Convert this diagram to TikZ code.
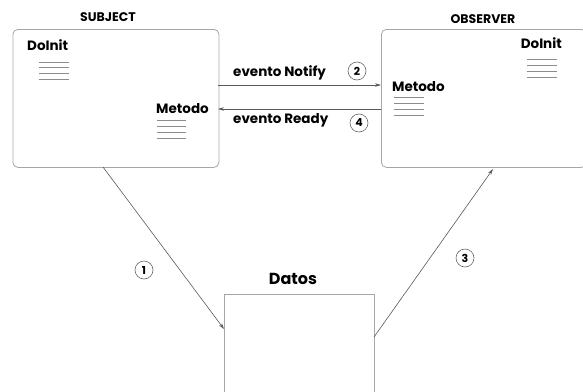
\documentclass[tikz,border=0pt]{standalone}
\usepackage{fontspec}
\setmainfont{Poppins}
\usetikzlibrary{arrows.meta}
\begin{document}
\begin{tikzpicture}[x=1pt,y=-1pt,
  box/.style={draw=black!35, line width=0.8pt, rounded corners=5pt},
  title/.style={font=\bfseries\fontsize{12.5}{14}\selectfont, inner sep=0pt},
  lbl/.style={font=\bfseries\fontsize{13.5}{15}\selectfont, inner sep=0pt},
  num/.style={circle, draw=black!60, line width=0.6pt, minimum size=18pt, inner sep=0pt, font=\bfseries\fontsize{11}{12}\selectfont},
  conn/.style={draw=black!65, line width=0.6pt, -{Stealth[length=6pt,width=3.5pt]}},
  ln/.style={draw=black!45, line width=0.6pt}
]
\useasboundingbox (0,0) rectangle (583,391);
\clip (0,0) rectangle (583,391);
% boxes
\node[box, minimum width=206pt, minimum height=138pt, anchor=north west] (subj) at (12.5,29) {};
\node[box, minimum width=205pt, minimum height=138pt, anchor=north west] (obs) at (381,29) {};
\node[draw=black!35, line width=0.8pt, minimum width=150pt, minimum height=110pt, anchor=north west] (datos) at (224,294) {};
% titles
\node[title] (tsubj) at (108,17) {SUBJECT};
\node[title] (tobs) at (483,19) {OBSERVER};
\node[font=\bfseries\fontsize{16}{18}\selectfont, inner sep=0pt] (tdatos) at (293,279) {Datos};
% subject contents
\node[lbl, anchor=west] (sdo) at (27,45) {DoInit};
\node[lbl, anchor=east] (smet) at (209,109) {Metodo};
\foreach \y in {62,67,73,79} \draw[ln] (39,\y) -- (69,\y);
\foreach \y in {120,126,132,138} \draw[ln] (157,\y) -- (186,\y);
% observer contents
\node[lbl, anchor=east] (odo) at (562,43) {DoInit};
\node[lbl, anchor=west] (omet) at (392,87) {Metodo};
\foreach \y in {59,65,71,77} \draw[ln] (527,\y) -- (557,\y);
\foreach \y in {97,103,109,115} \draw[ln] (394,\y) -- (424,\y);
% connectors
\coordinate (n1) at (218,85);
\coordinate (n2) at (381,85);
\coordinate (r1) at (381,109);
\coordinate (r2) at (218,109);
\draw[conn] (n1) -- (n2);
\draw[conn] (r1) -- (r2);
\node[lbl, anchor=west] (tnot) at (233,73) {evento Notify};
\node[lbl, anchor=west] (trea) at (233,120) {evento Ready};
\node[num] (c2) at (357,71) {2};
\node[num] (c4) at (359,123) {4};
\coordinate (a1) at (103,167);
\coordinate (a2) at (224,329);
\draw[conn] (a1) -- (a2);
\coordinate (b1) at (374,337);
\coordinate (b2) at (493,169);
\draw[conn] (b1) -- (b2);
\node[num] (c1) at (144,270) {1};
\node[num] (c3) at (465,258) {3};
\end{tikzpicture}
\end{document}
